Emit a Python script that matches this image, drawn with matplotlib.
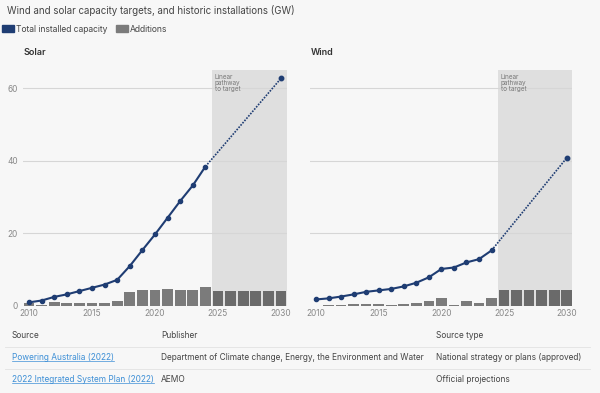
import matplotlib
matplotlib.use("Agg")
import matplotlib.pyplot as plt
from matplotlib.patches import Patch
from matplotlib.lines import Line2D

plt.rcParams['font.family'] = ['Inter', 'DejaVu Sans']

# data (GW)
years = list(range(2010, 2025))
target_year = 2030
add_years = list(range(2010, 2031))

solar_total = [1.0, 1.5, 2.5, 3.2, 4.1, 5.0, 5.9, 7.2, 11.0, 15.4, 19.7, 24.3, 28.9, 33.2, 38.4]
solar_target = 62.7
solar_add = [0.7, 0.4, 1.1, 0.7, 0.7, 0.8, 0.7, 1.3, 3.8, 4.3, 4.3, 4.6, 4.4, 4.3, 5.1,
             4.0, 4.0, 4.0, 4.0, 4.0, 4.0]

wind_total = [1.8, 2.1, 2.6, 3.2, 3.9, 4.3, 4.7, 5.4, 6.4, 7.9, 10.2, 10.6, 12.0, 12.9, 15.3]
wind_target = 40.8
wind_add = [0.1, 0.2, 0.4, 0.6, 0.55, 0.45, 0.4, 0.6, 0.9, 1.5, 2.3, 0.3, 1.4, 0.9, 2.3,
            4.3, 4.3, 4.3, 4.3, 4.3, 4.3]

sources = ["Powering Australia (2022)", "2022 Integrated System Plan (2022)"]
publishers = ["Department of Climate change, Energy, the Environment and Water", "AEMO"]
source_types = ["National strategy or plans (approved)", "Official projections"]

BG = '#f7f7f7'
BLUE = '#1f3d73'
GREY = '#7b7b7b'
GREY_FUT = '#6a6a6a'

fig = plt.figure(figsize=(6, 3.93), dpi=100, facecolor=BG)

ax_s = fig.add_axes([0.0388, 0.2214, 0.439, 0.6005], facecolor=BG)
ax_w = fig.add_axes([0.5173, 0.2214, 0.4367, 0.6005], facecolor=BG, sharey=ax_s)


def panel(ax, total, target, adds, name):
    ax.axvspan(2024.5, 2030.45, color='#dfdfdf', lw=0, zorder=0)
    for y in (20, 40, 60):
        ax.axhline(y, color='#d6d6d6', lw=0.8, zorder=1)
    cols = [GREY if y < 2025 else GREY_FUT for y in add_years]
    ax.bar(add_years, adds, width=0.85, color=cols, zorder=2)
    ax.plot(years, total, color=BLUE, lw=1.5, marker='o', ms=3, zorder=4)
    ax.plot([years[-1], target_year], [total[-1], target], color=BLUE, lw=1.2,
            ls=(0, (1, 0.8)), zorder=4)
    ax.plot([target_year], [target], color=BLUE, marker='o', ms=3.2, zorder=5)
    ax.text(2024.75, 64, "Linear\npathway\nto target", fontsize=4.6, color='#777777',
            va='top', ha='left', linespacing=1.0, zorder=6)
    ax.set_xlim(2009.55, 2030.45)
    ax.set_ylim(0, 65)
    ax.set_xticks([2010, 2015, 2020, 2025, 2030])
    ax.tick_params(length=0, labelsize=6, labelcolor='#888888', pad=2)
    for s in ax.spines.values():
        s.set_visible(False)
    ax.text(0.0, 1.055, name, transform=ax.transAxes, fontsize=6.5, color='#333333',
            fontweight='semibold', ha='left', va='bottom')


panel(ax_s, solar_total, solar_target, solar_add, "Solar")
panel(ax_w, wind_total, wind_target, wind_add, "Wind")
ax_s.set_yticks([0, 20, 40, 60])
ax_s.tick_params(axis='y', pad=4)
ax_w.tick_params(labelleft=False)

fig.text(7 / 600, 1 - 10 / 393, "Wind and solar capacity targets, and historic installations (GW)",
         fontsize=7.0, color='#444444', va='center', ha='left')

handles = [Patch(color=BLUE), Patch(color=GREY)]
fig.legend(handles, ["Total installed capacity", "Additions"], loc='center left',
           bbox_to_anchor=(0.0, 1 - 29 / 393), ncol=2, frameon=False, fontsize=6.1,
           handlelength=1.5, handleheight=0.8, handletextpad=0.15, columnspacing=1.0,
           borderaxespad=0, borderpad=0.2, labelcolor='#444444')

# source table
col_x = [12 / 600, 161 / 600, 436 / 600]
for x, h in zip(col_x, ["Source", "Publisher", "Source type"]):
    fig.text(x, 1 - 336 / 393, h, fontsize=6.0, color='#444444', va='center')

row_y = [357, 379]
for y in (347, 369):
    fig.add_artist(Line2D([5 / 600, 590 / 600], [1 - y / 393] * 2, color='#e2e2e2', lw=0.6))

links = []
for i in range(len(sources)):
    yy = 1 - row_y[i] / 393
    links.append(fig.text(col_x[0], yy, sources[i], fontsize=6.0, color='#3d8fd6', va='center'))
    fig.text(col_x[1], yy, publishers[i], fontsize=6.0, color='#444444', va='center')
    fig.text(col_x[2], yy, source_types[i], fontsize=6.0, color='#444444', va='center')

fig.canvas.draw()
r = fig.canvas.get_renderer()
for t in links:
    bb = t.get_window_extent(r).transformed(fig.transFigure.inverted())
    fig.add_artist(Line2D([bb.x0, bb.x1], [bb.y0 + 0.002] * 2, color='#3d8fd6', lw=0.5))

fig.savefig("out.png", dpi=100, facecolor=BG)
